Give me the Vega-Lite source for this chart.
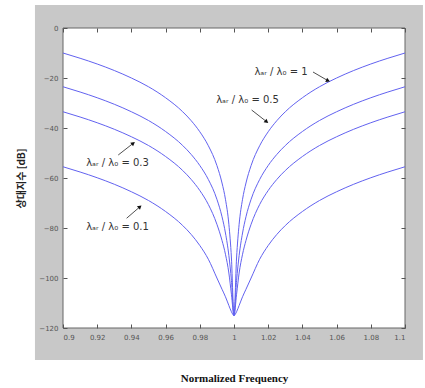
{
  "$schema": "https://vega.github.io/schema/vega-lite/v6.json",
  "width": 342,
  "height": 300,
  "autosize": "none",
  "padding": {"left": 63, "top": 28, "right": 20, "bottom": 60},
  "background": "white",
  "config": {"view": {"stroke": null}},
  "datasets": {
    "curves": [
      {"f": 0.9, "r1": -10, "r05": -23.5, "r03": -33.5, "r01": -55.5},
      {"f": 0.91, "r1": -12.1, "r05": -25.6, "r03": -35.6, "r01": -57.6},
      {"f": 0.92, "r1": -14.4, "r05": -27.9, "r03": -37.9, "r01": -59.9},
      {"f": 0.93, "r1": -17, "r05": -30.5, "r03": -40.5, "r01": -62.5},
      {"f": 0.94, "r1": -20, "r05": -33.5, "r03": -43.5, "r01": -65.5},
      {"f": 0.95, "r1": -23.5, "r05": -37, "r03": -47, "r01": -69},
      {"f": 0.96, "r1": -27.9, "r05": -41.4, "r03": -51.4, "r01": -73.4},
      {"f": 0.97, "r1": -33.5, "r05": -47, "r03": -57, "r01": -79},
      {"f": 0.975, "r1": -37.1, "r05": -50.6, "r03": -60.6, "r01": -82.6},
      {"f": 0.98, "r1": -41.5, "r05": -55, "r03": -65, "r01": -87},
      {"f": 0.985, "r1": -47.1, "r05": -60.6, "r03": -70.6, "r01": -92.5},
      {"f": 0.99, "r1": -55, "r05": -68.5, "r03": -78.5, "r01": -100},
      {"f": 0.993, "r1": -62, "r05": -75.5, "r03": -85, "r01": -104.5},
      {"f": 0.995, "r1": -68.5, "r05": -82, "r03": -90.5, "r01": -107.5},
      {"f": 0.997, "r1": -78.5, "r05": -91, "r03": -98, "r01": -111},
      {"f": 0.9985, "r1": -92, "r05": -101, "r03": -106.5, "r01": -113.5},
      {"f": 1.0, "r1": -115, "r05": -115, "r03": -115, "r01": -115},
      {"f": 1.0015, "r1": -92, "r05": -101, "r03": -106.5, "r01": -113.5},
      {"f": 1.003, "r1": -78.5, "r05": -91, "r03": -98, "r01": -111},
      {"f": 1.005, "r1": -68.5, "r05": -82, "r03": -90.5, "r01": -107.5},
      {"f": 1.007, "r1": -62, "r05": -75.5, "r03": -85, "r01": -104.5},
      {"f": 1.01, "r1": -55, "r05": -68.5, "r03": -78.5, "r01": -100},
      {"f": 1.015, "r1": -47.1, "r05": -60.6, "r03": -70.6, "r01": -92.5},
      {"f": 1.02, "r1": -41.5, "r05": -55, "r03": -65, "r01": -87},
      {"f": 1.025, "r1": -37.1, "r05": -50.6, "r03": -60.6, "r01": -82.6},
      {"f": 1.03, "r1": -33.5, "r05": -47, "r03": -57, "r01": -79},
      {"f": 1.04, "r1": -27.9, "r05": -41.4, "r03": -51.4, "r01": -73.4},
      {"f": 1.05, "r1": -23.5, "r05": -37, "r03": -47, "r01": -69},
      {"f": 1.06, "r1": -20, "r05": -33.5, "r03": -43.5, "r01": -65.5},
      {"f": 1.07, "r1": -17, "r05": -30.5, "r03": -40.5, "r01": -62.5},
      {"f": 1.08, "r1": -14.4, "r05": -27.9, "r03": -37.9, "r01": -59.9},
      {"f": 1.09, "r1": -12.1, "r05": -25.6, "r03": -35.6, "r01": -57.6},
      {"f": 1.1, "r1": -10, "r05": -23.5, "r03": -33.5, "r01": -55.5}
    ],
    "labels": [
      {"f": 1.0275, "dB": -17.6, "label": "λₐᵣ / λ₀ = 1"},
      {"f": 1.0079, "dB": -28.8, "label": "λₐᵣ / λ₀ = 0.5"},
      {"f": 0.9319, "dB": -54, "label": "λₐᵣ / λ₀ = 0.3"},
      {"f": 0.9319, "dB": -79.5, "label": "λₐᵣ / λ₀ = 0.1"}
    ],
    "arrows": [
      {"f0": 1.0462, "v0": -17.6, "f1": 1.055, "v1": -21.1, "heading": 24},
      {"f0": 1.0103, "v0": -32.8, "f1": 1.0191, "v1": -37.5, "heading": 38},
      {"f0": 0.9323, "v0": -50.8, "f1": 0.9411, "v1": -46.1, "heading": -38},
      {"f0": 0.9372, "v0": -76.1, "f1": 0.945, "v1": -71.5, "heading": -41}
    ]
  },
  "resolve": {"axis": {"x": "independent", "y": "independent"}},
  "layer": [
    {
      "data": {"values": [{}]},
      "mark": {"type": "rect", "fill": "#c8c8c8", "clip": false},
      "encoding": {
        "x": {"datum": 0.8836, "type": "quantitative", "scale": {"domain": [0.9, 1.1], "nice": false, "zero": false},
          "axis": {"orient": "bottom", "values": [0.9, 0.92, 0.94, 0.96, 0.98, 1, 1.02, 1.04, 1.06, 1.08, 1.1], "format": "~g",
            "title": "Normalized Frequency", "titleFont": "Liberation Serif", "titleFontSize": 11, "titleFontWeight": "bold", "titleColor": "#111", "titlePadding": 32,
            "labelFont": "DejaVu Sans", "labelFontSize": 7, "labelColor": "#555", "labelPadding": 9, "tickSize": -4, "tickColor": "#555", "domain": false, "grid": false, "zindex": 1}},
        "x2": {"datum": 1.1105},
        "y": {"datum": 9.2, "type": "quantitative", "scale": {"domain": [-120, 0], "nice": false, "zero": false},
          "axis": {"orient": "left", "values": [0, -20, -40, -60, -80, -100, -120],
            "title": "상대지수 [dB]", "titleFont": "Noto Sans CJK KR", "titleFontSize": 10, "titleFontWeight": "bold", "titleColor": "#222", "titlePadding": 12,
            "labelFont": "DejaVu Sans", "labelFontSize": 7, "labelColor": "#555", "labelPadding": 9, "tickSize": -4, "tickColor": "#555", "domain": false, "grid": false, "zindex": 1}},
        "y2": {"datum": -132.8}
      }
    },
    {
      "data": {"values": [{}]},
      "mark": {"type": "rect", "fill": "white", "stroke": "#666", "strokeWidth": 1},
      "encoding": {
        "x": {"datum": 0.9, "type": "quantitative",
          "axis": {"orient": "top", "values": [0.9, 0.92, 0.94, 0.96, 0.98, 1, 1.02, 1.04, 1.06, 1.08, 1.1], "labels": false, "title": null, "tickSize": -4, "tickColor": "#555", "domain": false, "grid": false, "zindex": 1}},
        "x2": {"datum": 1.1},
        "y": {"datum": 0, "type": "quantitative",
          "axis": {"orient": "right", "values": [0, -20, -40, -60, -80, -100, -120], "labels": false, "title": null, "tickSize": -4, "tickColor": "#555", "domain": false, "grid": false, "zindex": 1}},
        "y2": {"datum": -120}
      }
    },
    {
      "data": {"name": "curves"},
      "transform": [{"fold": ["r1", "r05", "r03", "r01"], "as": ["ratio", "dB"]}],
      "mark": {"type": "line", "interpolate": "monotone", "color": "#6262f0", "strokeWidth": 1},
      "encoding": {
        "x": {"field": "f", "type": "quantitative", "axis": null},
        "y": {"field": "dB", "type": "quantitative", "axis": null},
        "detail": {"field": "ratio"}
      }
    },
    {
      "data": {"name": "arrows"},
      "mark": {"type": "rule", "color": "#222", "strokeWidth": 0.8},
      "encoding": {
        "x": {"field": "f0", "type": "quantitative", "axis": null},
        "y": {"field": "v0", "type": "quantitative", "axis": null},
        "x2": {"field": "f1"},
        "y2": {"field": "v1"}
      }
    },
    {
      "data": {"name": "arrows"},
      "mark": {"type": "point", "shape": "triangle-right", "filled": true, "color": "#111", "size": 22, "opacity": 1},
      "encoding": {
        "x": {"field": "f1", "type": "quantitative", "axis": null},
        "y": {"field": "v1", "type": "quantitative", "axis": null},
        "angle": {"field": "heading", "type": "quantitative", "scale": null}
      }
    },
    {
      "data": {"name": "labels"},
      "mark": {"type": "text", "font": "DejaVu Sans", "fontSize": 10, "color": "#333", "baseline": "middle", "align": "center"},
      "encoding": {
        "x": {"field": "f", "type": "quantitative", "axis": null},
        "y": {"field": "dB", "type": "quantitative", "axis": null},
        "text": {"field": "label"}
      }
    }
  ]
}
